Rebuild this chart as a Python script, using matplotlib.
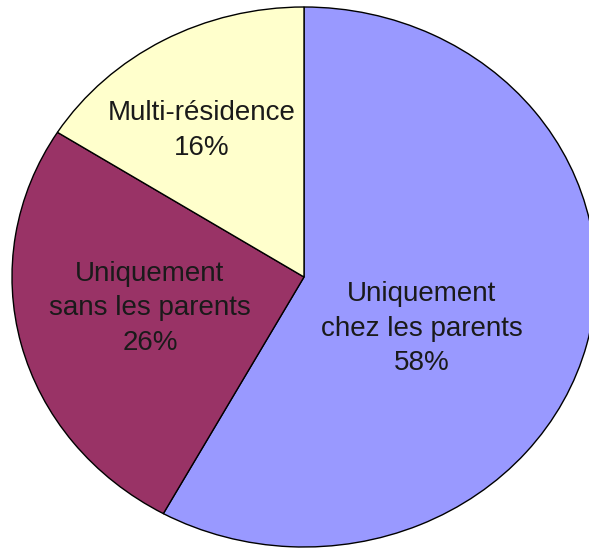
import numpy as np
import matplotlib
matplotlib.use("Agg")
import matplotlib.pyplot as plt

categories = ["Uniquement\nchez les parents", "Uniquement\nsans les parents", "Multi-résidence"]
values = [58, 26, 16]
colors = ["#9999FF", "#993366", "#FFFFCC"]

W, H = 589, 551
fig = plt.figure(figsize=(W / 100, H / 100), dpi=100)
ax = fig.add_axes([0, 0, 1, 1])

wedges, _ = ax.pie(values, colors=colors, startangle=90, counterclock=False,
                   wedgeprops=dict(edgecolor="black", linewidth=1.0), radius=1.0)

# ellipse geometry (pixels)
cx, cy, rx, ry = 304, 277, 292, 270
ax.set_aspect("auto")
ax.set_xlim(-cx / rx, (W - cx) / rx)
ax.set_ylim(-(H - cy) / ry, cy / ry)
ax.axis("off")

# label placement (angle offset in degrees, radial distance) per wedge
label_adj = [(-11, 0.445), (-2, 0.54), (4, 0.646)]
for w, cat, v, (da, d) in zip(wedges, categories, values, label_adj):
    mid = np.deg2rad((w.theta1 + w.theta2) / 2 + da)
    ax.text(d * np.cos(mid), d * np.sin(mid), f"{cat}\n{v}%", ha="center", va="center",
            fontsize=20, family="Liberation Sans",
            color="#1a1a1a", linespacing=1.42)

fig.savefig("out.png", dpi=100)
